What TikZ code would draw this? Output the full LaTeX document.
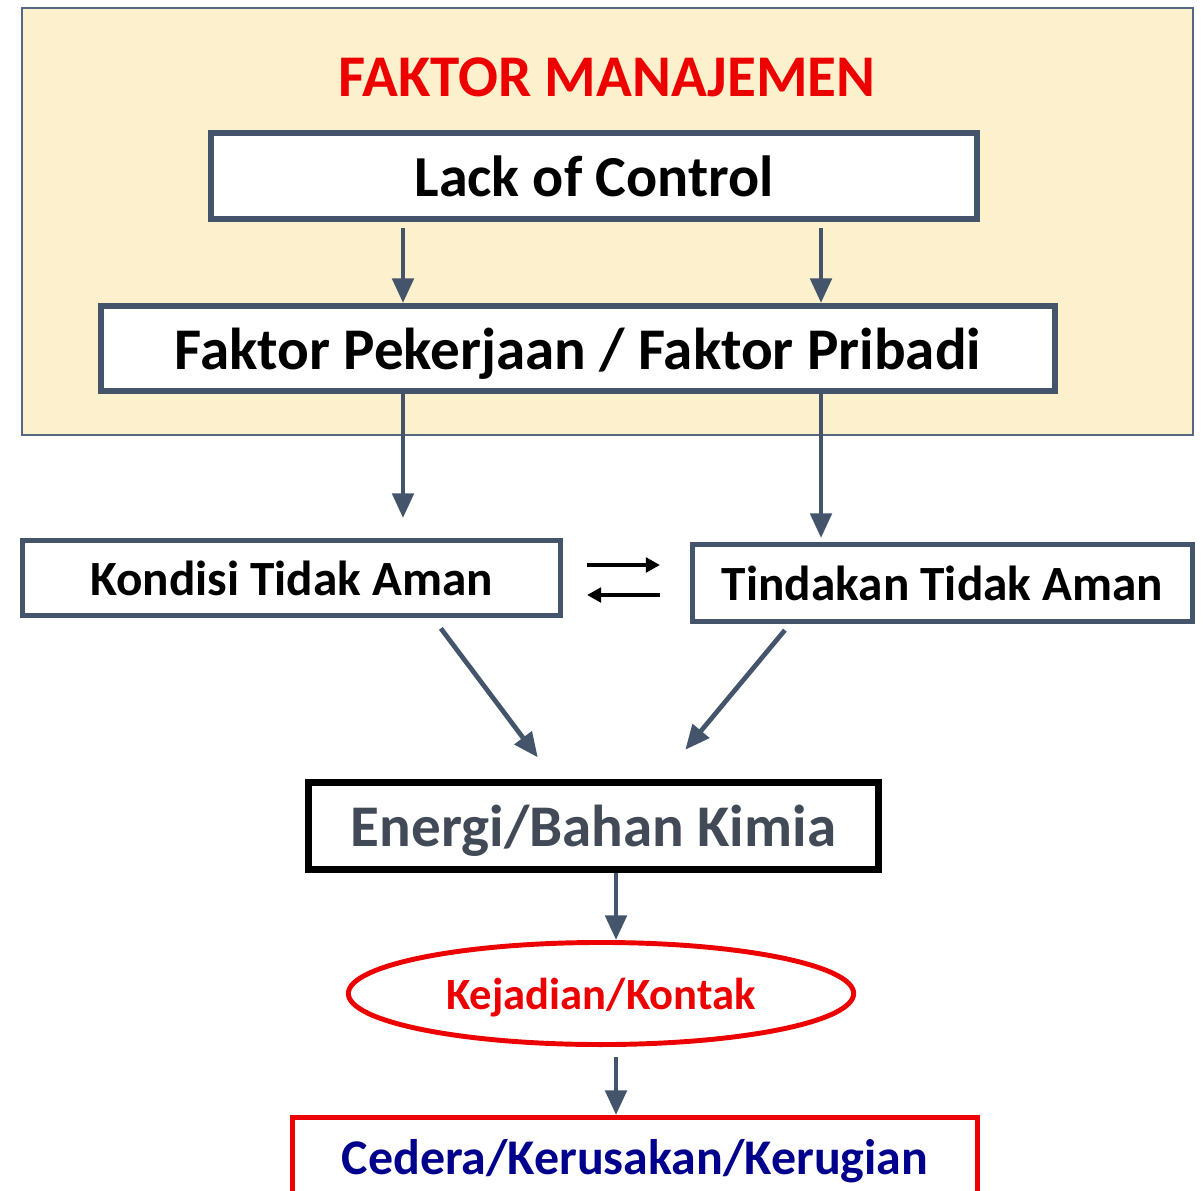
\documentclass[tikz,border=0pt]{standalone}
\usepackage{fontspec}
\setmainfont{Carlito}
\usetikzlibrary{arrows.meta,shapes.geometric}
\definecolor{slate}{RGB}{68,84,106}
\definecolor{beige}{RGB}{252,240,205}
\definecolor{framecol}{RGB}{84,104,134}
\definecolor{redtxt}{RGB}{236,0,0}
\definecolor{navy}{RGB}{0,0,140}
\definecolor{energitxt}{RGB}{66,74,88}
\newcommand{\fsize}[1]{\fontsize{#1}{#1}\selectfont}
\tikzset{
	box/.style={draw=slate, line width=1.7pt, fill=white, inner sep=0pt, text depth=0pt, font=\bfseries},
	arr/.style={draw=slate, line width=1.35pt, -{Triangle[length=7pt,width=6pt]}},
	pairarr/.style={draw=black, line width=0.9pt, -{Triangle[length=4pt,width=4.2pt]}}
}

\begin{document}
\begin{tikzpicture}[x=0.01cm, y=-0.01cm]
		%%%%% START %%%%%
		\useasboundingbox (0, 0) rectangle (1203, 1191);
		
		\draw[line width=0.8pt, draw=framecol, fill=beige] (22, 8) rectangle (1193, 435);
		\node[text depth=0pt, font=\bfseries\fsize{16.8}, text=redtxt] (title) at (607, 77) {FAKTOR MANAJEMEN};
		
		\node[box, minimum width=7.66cm, minimum height=0.86cm, font=\bfseries\fsize{16.5}] (lack) at (594, 176) {Lack of Control};
		\node[box, minimum width=9.54cm, minimum height=0.85cm, font=\bfseries\fsize{16.8}] (faktor) at (578, 348.5) {Faktor Pekerjaan / Faktor Pribadi};
		
		\node[box, line width=1.4pt, minimum width=5.38cm, minimum height=0.75cm, font=\bfseries\fsize{14}] (kondisi) at (291.5, 578) {Kondisi Tidak Aman};
		\node[box, line width=1.4pt, minimum width=5.00cm, minimum height=0.77cm, font=\bfseries\fsize{14}] (tindakan) at (942.5, 583) {Tindakan Tidak Aman};
		
		\node[box, draw=black, line width=2pt, minimum width=5.70cm, minimum height=0.87cm, font=\bfseries\fsize{16.8}, text=energitxt] (energi) at (593.5, 826) {Energi/Bahan Kimia};
		\node[ellipse, draw=redtxt, line width=1.4pt, fill=white, inner sep=0pt, text depth=0pt, minimum width=5.05cm, minimum height=1.02cm, font=\bfseries\fsize{12.7}, text=redtxt] (kejadian) at (601, 993.5) {Kejadian/Kontak};
		\node[box, draw=redtxt, line width=1.4pt, minimum width=6.85cm, minimum height=0.79cm, font=\bfseries\fsize{14.2}, text=navy] (cedera) at (635, 1157) {Cedera/Kerusakan/Kerugian};
		
		% arrow columns
		\coordinate (colA) at (403, 0);
		\coordinate (colB) at (821, 0);
		\coordinate (colK) at (433, 0);
		\coordinate (colT) at (790, 0);
		\coordinate (colE1) at (554, 0);
		\coordinate (colE2) at (661, 0);
		\coordinate (colM) at (616, 0);
		
		\draw[arr, shorten <=0.06cm] (lack.south -| colA) -- (faktor.north -| colA);
		\draw[arr, shorten <=0.06cm] (lack.south -| colB) -- (faktor.north -| colB);
		\draw[arr, shorten >=0.2cm] (faktor.south -| colA) -- (kondisi.north -| colA);
		\draw[arr, shorten >=0.04cm] (faktor.south -| colB) -- (tindakan.north -| colB);
		
		\draw[pairarr] ([shift={(24,-13)}]kondisi.east) -- ([shift={(-30,-18)}]tindakan.west);
		\draw[pairarr] ([shift={(-30,12)}]tindakan.west) -- ([shift={(24,17)}]kondisi.east);
		
		\draw[arr, shorten <=0.13cm, shorten >=0.27cm] (kondisi.south -| colK) -- (energi.north -| colE1);
		\draw[arr, shorten <=0.08cm, shorten >=0.38cm] (tindakan.south -| colT) -- (energi.north -| colE2);
		
		\draw[arr] (energi.south -| colM) -- (kejadian.north -| colM);
		\draw[arr, shorten <=0.1cm] (kejadian.south -| colM) -- (cedera.north -| colM);
		%%%%% END %%%%%
	\end{tikzpicture}
\end{document}
